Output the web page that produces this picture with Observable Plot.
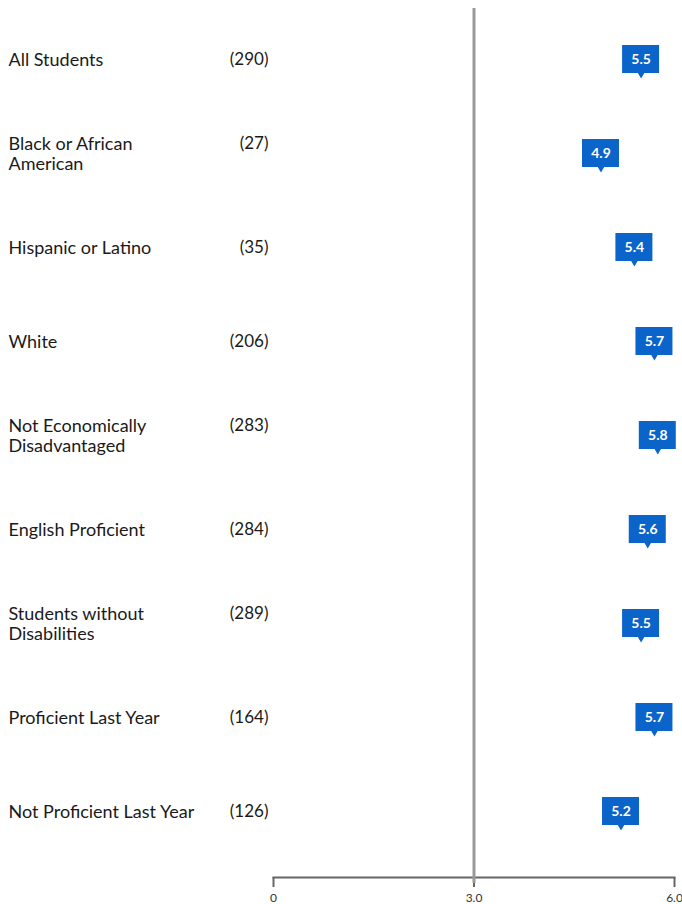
<!DOCTYPE html>
<html>
<head>
<meta charset="utf-8">
<script src="https://cdn.jsdelivr.net/npm/d3@7"></script>
<script src="https://cdn.jsdelivr.net/npm/@observablehq/plot@0.6"></script>
<style>
  html, body { margin: 0; padding: 0; background: #fff; }
  #chart svg { display: block; }
</style>
</head>
<body>
<div id="chart"></div>
<script>
const groups = [
  "All Students",
  "Black or African\nAmerican",
  "Hispanic or Latino",
  "White",
  "Not Economically\nDisadvantaged",
  "English Proficient",
  "Students without\nDisabilities",
  "Proficient Last Year",
  "Not Proficient Last Year"
];
const counts = [290, 27, 35, 206, 283, 284, 289, 164, 126];
const values = [5.5, 4.9, 5.4, 5.7, 5.75, 5.6, 5.5, 5.7, 5.2];
const valueLabels = ["5.5", "4.9", "5.4", "5.7", "5.8", "5.6", "5.5", "5.7", "5.2"];
const xTicks = [0, 3, 6];
const xTickLabels = ["0", "3.0", "6.0"];
const reference = 3;

const rows = groups.map((g, i) => ({
  group: g,
  count: counts[i],
  value: values[i],
  label: valueLabels[i],
  multi: g.includes("\n")
}));

const blue = "#0a64c9";
const font = "Lato, 'Noto Sans', sans-serif";

const chart = Plot.plot({
  width: 682,
  height: 904,
  marginLeft: 273,
  marginRight: 8,
  marginTop: 8,
  marginBottom: 27,
  style: { fontFamily: font, background: "#fff", color: "#1a1a1a" },
  x: { domain: [0, 6], axis: null, label: null },
  y: { type: "point", domain: groups, range: [58, 812], padding: 0, axis: null, label: null },
  marks: [
    Plot.frame({ anchor: "bottom", stroke: "#666", strokeWidth: 2 }),
    Plot.axisX({
      ticks: xTicks,
      tickFormat: (d) => xTickLabels[xTicks.indexOf(d)],
      tickSize: 10,
      tickPadding: 6,
      stroke: "#666",
      strokeWidth: 2,
      fontSize: 12,
      fill: "#333",
      label: null,
      anchor: "bottom"
    }),
    Plot.ruleX([reference], { stroke: "#999", strokeWidth: 3, insetBottom: -6 }),
    Plot.text(rows, {
      y: "group",
      text: "group",
      frameAnchor: "left",
      dx: -265,
      textAnchor: "start",
      lineAnchor: "middle",
      lineHeight: 1.15,
      fontSize: 18,
      fill: "#1a1a1a"
    }),
    Plot.text(rows.filter((d) => !d.multi), {
      y: "group",
      text: (d) => `(${d.count})`,
      frameAnchor: "left",
      dx: -5,
      textAnchor: "end",
      fontSize: 17,
      fill: "#1a1a1a"
    }),
    Plot.text(rows.filter((d) => d.multi), {
      y: "group",
      text: (d) => `(${d.count})`,
      frameAnchor: "left",
      dx: -5,
      dy: -10,
      textAnchor: "end",
      fontSize: 17,
      fill: "#1a1a1a"
    }),
    Plot.dot(rows, {
      x: "value",
      y: "group",
      symbol: "triangle",
      rotate: 180,
      r: 3.6,
      dy: 13.5,
      fill: blue,
      stroke: null
    }),
    Plot.rect(rows, {
      x1: "value",
      x2: "value",
      y1: "group",
      y2: "group",
      insetLeft: -18.5,
      insetRight: -18.5,
      insetTop: -14,
      insetBottom: -14,
      fill: blue
    }),
    Plot.text(rows, {
      x: "value",
      y: "group",
      text: "label",
      fill: "#fff",
      fontWeight: "bold",
      fontSize: 14
    })
  ]
});

document.getElementById("chart").append(chart);
</script>
</body>
</html>
